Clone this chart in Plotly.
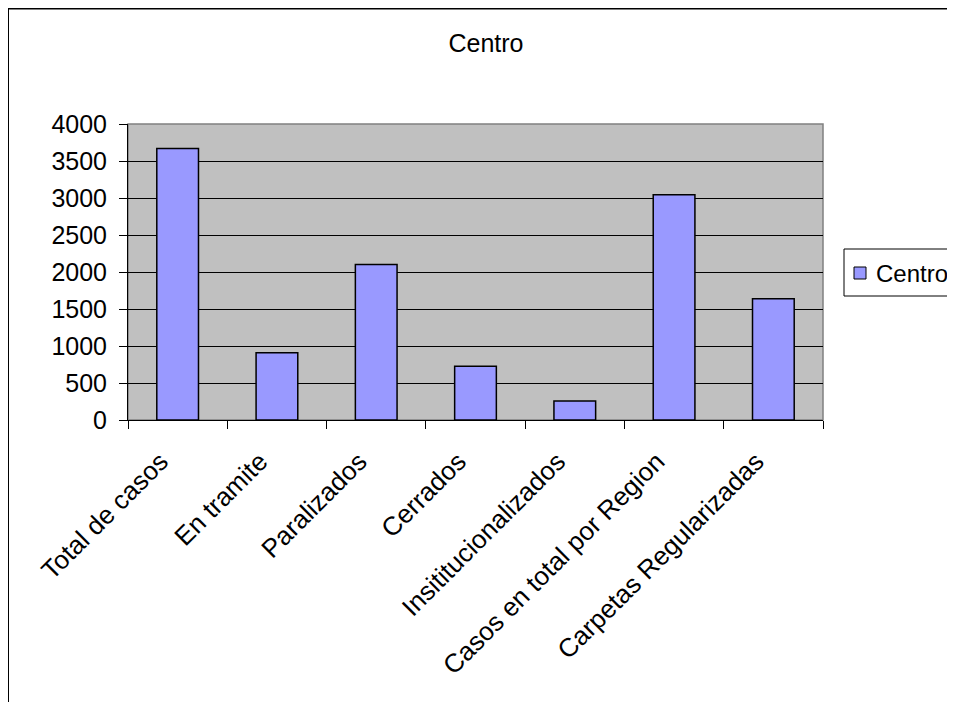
import plotly.graph_objects as go

categories = ["Total de casos", "En tramite", "Paralizados", "Cerrados",
              "Insitituciónalizados".replace("ó", "o"), "Casos en total por Region",
              "Carpetas Regularizadas"]
values = [3670, 910, 2100, 725, 257, 3045, 1640]
series_name = "Centro"
y_ticks = [0, 500, 1000, 1500, 2000, 2500, 3000, 3500, 4000]

# page has an 8px body margin: figure coords = page coords - 8
W, H = 947, 694
L, T = 120, 116
pw, ph = 695, 296
R, B = W - L - pw, H - T - ph

font = "Liberation Sans, Arial, sans-serif"


def px(x):  # figure pixel x -> paper
    return (x - L) / pw


def py(y):  # figure pixel y (from top) -> paper
    return 1 - (y - T) / ph


fig = go.Figure(go.Bar(
    x=categories, y=values, name=series_name,
    marker=dict(color="#9999FF", line=dict(color="black", width=1.5)),
    showlegend=False,
))

fig.update_layout(
    width=W, height=H,
    margin=dict(l=L, r=R, t=T, b=B),
    paper_bgcolor="white", plot_bgcolor="#C0C0C0",
    bargap=0.58,
    font=dict(family=font, size=24, color="black"),
    title=dict(text="Centro", x=478 / W, xanchor="center",
               y=1 - 35 / H, yanchor="middle", font=dict(size=25, family=font)),
    xaxis=dict(tickangle=-45, tickson="boundaries", ticks="outside", ticklen=8,
               tickcolor="black", showline=True, linecolor="black", linewidth=1,
               showgrid=False, tickfont=dict(size=26, family=font),
               ticklabelshift=-17, ticklabelstandoff=15),
    yaxis=dict(range=[0, 4000], tickvals=y_ticks, ticks="outside", ticklen=8,
               tickcolor="black", showline=True, linecolor="black", linewidth=1,
               showgrid=True, gridcolor="black", gridwidth=1, zeroline=False,
               tickfont=dict(size=25, family=font), ticklabelstandoff=7),
)

# plot-area border (top/right)
fig.add_shape(type="rect", xref="paper", yref="paper", x0=0, x1=1, y0=0, y1=1,
              line=dict(color="#808080", width=1.5), layer="below")

# chart outer frame (left and top edges visible)
fig.add_shape(type="line", xref="paper", yref="paper", x0=px(0), x1=px(0),
              y0=py(H + 20), y1=py(0.5), line=dict(color="black", width=2))
fig.add_shape(type="line", xref="paper", yref="paper", x0=px(0), x1=px(W + 20),
              y0=py(0.5), y1=py(0.5), line=dict(color="black", width=2))

# legend box for the single series
fig.add_shape(type="rect", xref="paper", yref="paper",
              x0=px(836), x1=px(W + 20), y0=py(288), y1=py(241),
              line=dict(color="black", width=1), fillcolor="white")
fig.add_shape(type="rect", xref="paper", yref="paper",
              x0=px(846), x1=px(858), y0=py(271), y1=py(259),
              line=dict(color="black", width=1), fillcolor="#9999FF")
fig.add_annotation(xref="paper", yref="paper", x=px(866), y=py(265),
                   xanchor="left", yanchor="middle", showarrow=False,
                   text=series_name, font=dict(size=24, family=font))

fig.write_html("out.html")
